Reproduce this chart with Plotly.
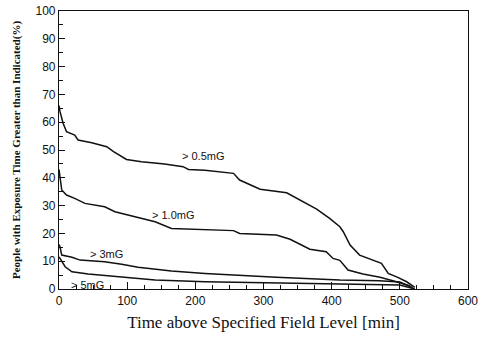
import plotly.graph_objects as go

# >0.5 mG
t05 = [0, 1.5, 6, 11, 23, 28, 48, 70, 80, 99, 121, 155, 182, 190, 214, 256, 265, 295, 334, 353, 378, 397, 412, 417, 427, 441, 461, 473, 483, 497, 510, 522]
p05 = [66, 63.8, 59.6, 56.6, 55.4, 53.6, 52.6, 51.2, 49.4, 46.6, 45.8, 45, 44, 43, 42.7, 41.6, 39.2, 35.9, 34.6, 32, 28.7, 25.4, 22.4, 20.6, 15.8, 12.2, 10.4, 9.2, 5.6, 4.2, 2.6, 0.6]
# >1.0 mG
t10 = [0, 1.5, 4, 11, 23, 38, 67, 82, 111, 141, 165, 214, 256, 265, 319, 339, 368, 392, 402, 412, 424, 446, 471, 495, 515]
p10 = [43, 40.4, 35.6, 33.8, 32.6, 30.8, 29.6, 27.8, 26, 24.2, 21.8, 21.5, 21, 20, 19.4, 17.9, 14.3, 13.4, 11, 10.3, 6.8, 5.4, 4.2, 2.6, 1.1]
# >3 mG
t3 = [0, 1.5, 4, 19, 31, 67, 92, 116, 165, 214, 319, 412, 470, 500, 519]
p3 = [16, 15.2, 12.2, 11.4, 10.4, 9.8, 8.9, 7.8, 6.5, 5.6, 4.2, 3.2, 3, 2.5, 0.5]
# >5 mG
t5 = [0, 1.5, 9, 19, 43, 92, 141, 214, 300, 412, 500, 522]
p5 = [11.5, 11, 8, 6.2, 5.4, 4.2, 3.2, 2.6, 2.3, 1.7, 1.4, 0]

labels = ["> 0.5mG", "> 1.0mG", "> 3mG", "> 5mG"]
label_x = [177, 133, 43, 15]
label_y = [47.8, 26.6, 12.6, 1.6]

x_ticks = [0, 100, 200, 300, 400, 500, 600]
y_ticks = [0, 10, 20, 30, 40, 50, 60, 70, 80, 90, 100]

fig = go.Figure()
for t, p, name in zip([t05, t10, t3, t5], [p05, p10, p3, p5], labels):
    fig.add_trace(go.Scatter(x=t, y=p, mode="lines", name=name,
                             line=dict(color="#111", width=1.5), showlegend=False))

for lab, lx, ly in zip(labels, label_x, label_y):
    fig.add_annotation(x=lx, y=ly, text=lab, showarrow=False, xanchor="left",
                       font=dict(family="Liberation Sans, Arial", size=11, color="#111"))

fig.update_layout(
    width=483, height=345,
    margin=dict(l=59, r=15, t=11, b=56),
    paper_bgcolor="white", plot_bgcolor="white",
    font=dict(family="Liberation Sans, Arial", size=10, color="#111"),
)
fig.update_xaxes(
    range=[0, 600], tickvals=x_ticks, ticks="inside", ticklen=7, tickwidth=1,
    tickcolor="#111", showline=True, linecolor="#111", linewidth=1.2, mirror=True,
    showgrid=False, zeroline=False, automargin=False,
    minor=dict(dtick=25, ticks="inside", ticklen=4, tickcolor="#111", showgrid=False),
    tickfont=dict(size=12, family="Liberation Sans, Arial", color="#111"),
    title=dict(text="Time above Specified Field Level [min]", standoff=9,
               font=dict(family="Liberation Serif, Times New Roman", size=17, color="#111")),
)
fig.update_yaxes(
    range=[0, 100], tickvals=y_ticks, ticks="inside", ticklen=6, tickwidth=1,
    tickcolor="#111", showline=True, linecolor="#111", linewidth=1.2, mirror=True,
    showgrid=False, zeroline=False, automargin=False,
    minor=dict(dtick=5, ticks="inside", ticklen=4, tickcolor="#111", showgrid=False),
    tickfont=dict(size=12, family="Liberation Sans, Arial", color="#111"),
    title=dict(text="<b>People with Exposure Time Greater than Indicated(%)</b>", standoff=12,
               font=dict(family="Liberation Serif, Times New Roman", size=11, color="#111")),
)

fig.write_html("out.html", post_script="document.body.style.margin='0';",
               config={"displayModeBar": False})
